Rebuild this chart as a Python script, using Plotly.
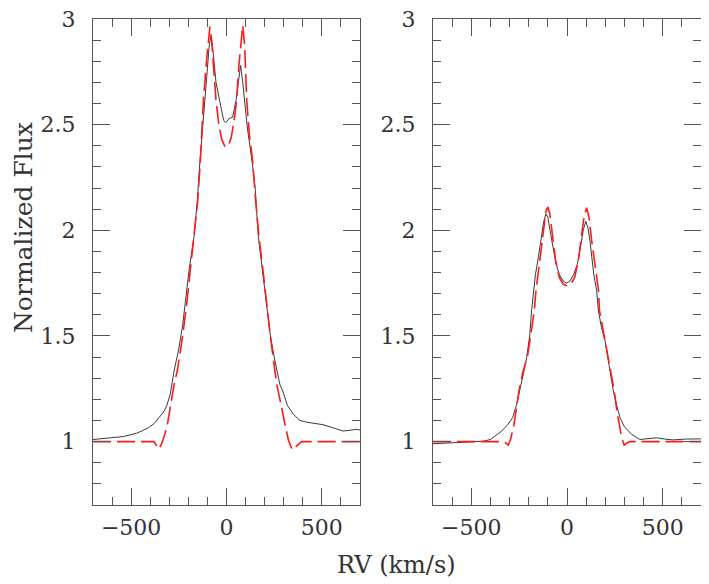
import plotly.graph_objects as go

# left panel, observed profile
v_obs_a = [-700, -660, -620, -580, -540, -500, -470, -440, -410, -380, -350, -330, -313, -295,
           -275, -250, -230, -218, -195, -170, -153, -139, -125, -113, -100, -90, -81, -72, -55,
           -34, -15, -3, 15, 32, 50, 65, 74, 85, 92, 110, 135, 150, 167, 190, 207, 230, 250,
           266, 280, 295, 320, 350, 385, 420, 460, 506, 550, 580, 611, 650, 680, 700]
f_obs_a = [1.010, 1.014, 1.016, 1.022, 1.024, 1.033, 1.040, 1.052, 1.066, 1.085, 1.115, 1.140,
           1.170, 1.225, 1.334, 1.440, 1.550, 1.650, 1.820, 1.970, 2.140, 2.330, 2.500, 2.620,
           2.760, 2.880, 2.920, 2.860, 2.700, 2.600, 2.520, 2.510, 2.530, 2.535, 2.615, 2.720,
           2.780, 2.700, 2.630, 2.480, 2.320, 2.200, 1.970, 1.800, 1.650, 1.500, 1.400, 1.334,
           1.270, 1.240, 1.170, 1.130, 1.100, 1.092, 1.086, 1.080, 1.068, 1.060, 1.050, 1.054,
           1.058, 1.055]

# left panel, model profile
v_mod_a = [-700, -380, -366, -354, -340, -328, -310, -296, -275, -258, -230, -209, -185, -170,
           -151, -137, -121, -105, -95, -87, -78, -65, -55, -40, -25, -10, -3, 10, 25, 40, 53,
           65, 78, 85, 95, 106, 120, 137, 153, 170, 190, 211, 230, 254, 266, 280, 298, 312,
           324, 338, 350, 368, 394, 700]
f_mod_a = [1.000, 1.000, 0.980, 0.965, 0.990, 1.020, 1.080, 1.160, 1.270, 1.334, 1.500, 1.650,
           1.850, 1.970, 2.140, 2.330, 2.615, 2.800, 2.900, 2.964, 2.900, 2.750, 2.615, 2.500,
           2.430, 2.400, 2.394, 2.400, 2.440, 2.520, 2.615, 2.780, 2.930, 2.970, 2.880, 2.615,
           2.450, 2.330, 2.140, 1.970, 1.820, 1.650, 1.500, 1.334, 1.260, 1.200, 1.130, 1.060,
           1.010, 0.975, 0.960, 0.980, 1.000, 1.000]

# right panel, observed profile
v_obs_b = [-700, -600, -500, -437, -400, -370, -341, -310, -284, -265, -246, -228, -211, -195,
           -185, -176, -165, -150, -135, -122, -110, -100, -85, -70, -57, -40, -20, -2, 15, 35,
           54, 70, 85, 98, 110, 120, 129, 140, 155, 164, 180, 199, 220, 242, 260, 277, 300, 338,
           381, 420, 469, 510, 554, 620, 700]
f_obs_b = [0.990, 0.995, 1.000, 1.002, 1.010, 1.030, 1.050, 1.080, 1.113, 1.170, 1.240, 1.320,
           1.397, 1.500, 1.620, 1.714, 1.790, 1.870, 1.960, 2.040, 2.078, 2.060, 1.980, 1.900,
           1.840, 1.790, 1.760, 1.750, 1.760, 1.790, 1.840, 1.920, 2.000, 2.043, 2.010, 1.950,
           1.870, 1.790, 1.714, 1.620, 1.540, 1.477, 1.360, 1.240, 1.170, 1.113, 1.070, 1.034,
           1.010, 1.012, 1.018, 1.012, 1.008, 1.012, 1.013]

# right panel, model profile
v_mod_b = [-700, -330, -315, -307, -295, -277, -262, -251, -230, -207, -190, -171, -162, -150,
           -141, -125, -110, -100, -90, -75, -60, -40, -20, 2, 20, 40, 60, 75, 90, 103, 115,
           129, 141, 155, 164, 170, 190, 216, 235, 247, 260, 272, 285, 299, 315, 330, 700]
f_mod_b = [1.000, 1.000, 0.990, 0.983, 1.010, 1.080, 1.170, 1.240, 1.330, 1.400, 1.500, 1.620,
           1.714, 1.800, 1.870, 2.000, 2.090, 2.110, 2.080, 1.970, 1.860, 1.777, 1.745, 1.737,
           1.745, 1.777, 1.860, 1.970, 2.070, 2.107, 2.060, 1.950, 1.870, 1.780, 1.720, 1.620,
           1.520, 1.400, 1.300, 1.240, 1.150, 1.080, 1.020, 0.983, 0.995, 1.000, 1.000]

# the page body has an 8px margin, so the figure is drawn 8px in from the corner
OFF = 8
W, H = 700, 576
FONT = "DejaVu Serif"
AX = "#555555"


def px(x):
    return (x - OFF) / W


def py(y):
    return 1 - (y - OFF) / H


fig = go.Figure()
obs_line = dict(color="#3a3a3a", width=1)
mod_line = dict(color="#ff1a1a", width=1.6, dash="18px,6px")
fig.add_trace(go.Scatter(x=v_obs_a, y=f_obs_a, mode="lines", line=obs_line, xaxis="x", yaxis="y"))
fig.add_trace(go.Scatter(x=v_mod_a, y=f_mod_a, mode="lines", line=mod_line, xaxis="x", yaxis="y"))
fig.add_trace(go.Scatter(x=v_obs_b, y=f_obs_b, mode="lines", line=obs_line, xaxis="x2", yaxis="y2"))
fig.add_trace(go.Scatter(x=v_mod_b, y=f_mod_b, mode="lines", line=mod_line, xaxis="x2", yaxis="y2"))

ydom = [py(505), py(19)]


def xax(dom, anchor):
    return dict(domain=dom, anchor=anchor, range=[-700, 700], dtick=500, tick0=0,
                ticks="inside", ticklen=17, tickcolor=AX, tickwidth=1,
                minor=dict(dtick=100, tick0=0, ticks="inside", ticklen=8, tickcolor=AX),
                showline=True, linecolor=AX, linewidth=1, mirror="allticks",
                showgrid=False, zeroline=False, automargin=False,
                ticklabeloverflow="allow",
                ticklabelstandoff=3, tickfont=dict(family=FONT, size=22, color="#333"))


def yax(anchor):
    return dict(domain=ydom, anchor=anchor, range=[0.7, 3], dtick=0.5, tick0=0,
                ticks="inside", ticklen=17, tickcolor=AX, tickwidth=1,
                minor=dict(dtick=0.1, tick0=0, ticks="inside", ticklen=8, tickcolor=AX),
                showline=True, linecolor=AX, linewidth=1, mirror="allticks",
                showgrid=False, zeroline=False, automargin=False,
                ticklabeloverflow="allow",
                ticklabelstandoff=12, tickfont=dict(family=FONT, size=22, color="#333"))


fig.update_layout(
    width=W, height=H,
    margin=dict(l=0, r=0, t=0, b=0),
    paper_bgcolor="white", plot_bgcolor="white",
    showlegend=False,
    xaxis=xax([px(93), px(360)], "y"),
    yaxis=yax("x"),
    xaxis2=xax([px(433), px(701)], "y2"),
    yaxis2=yax("x2"),
    annotations=[
        dict(text="RV (km/s)", xref="paper", yref="paper", x=px(396), y=py(565),
             xanchor="center", yanchor="middle",
             showarrow=False, font=dict(family=FONT, size=24, color="#333")),
        dict(text="Normalized Flux", xref="paper", yref="paper", x=px(23), y=py(228),
             xanchor="center", yanchor="middle", textangle=-90,
             showarrow=False, font=dict(family=FONT, size=25, color="#333")),
    ],
)

fig.write_html("out.html")
